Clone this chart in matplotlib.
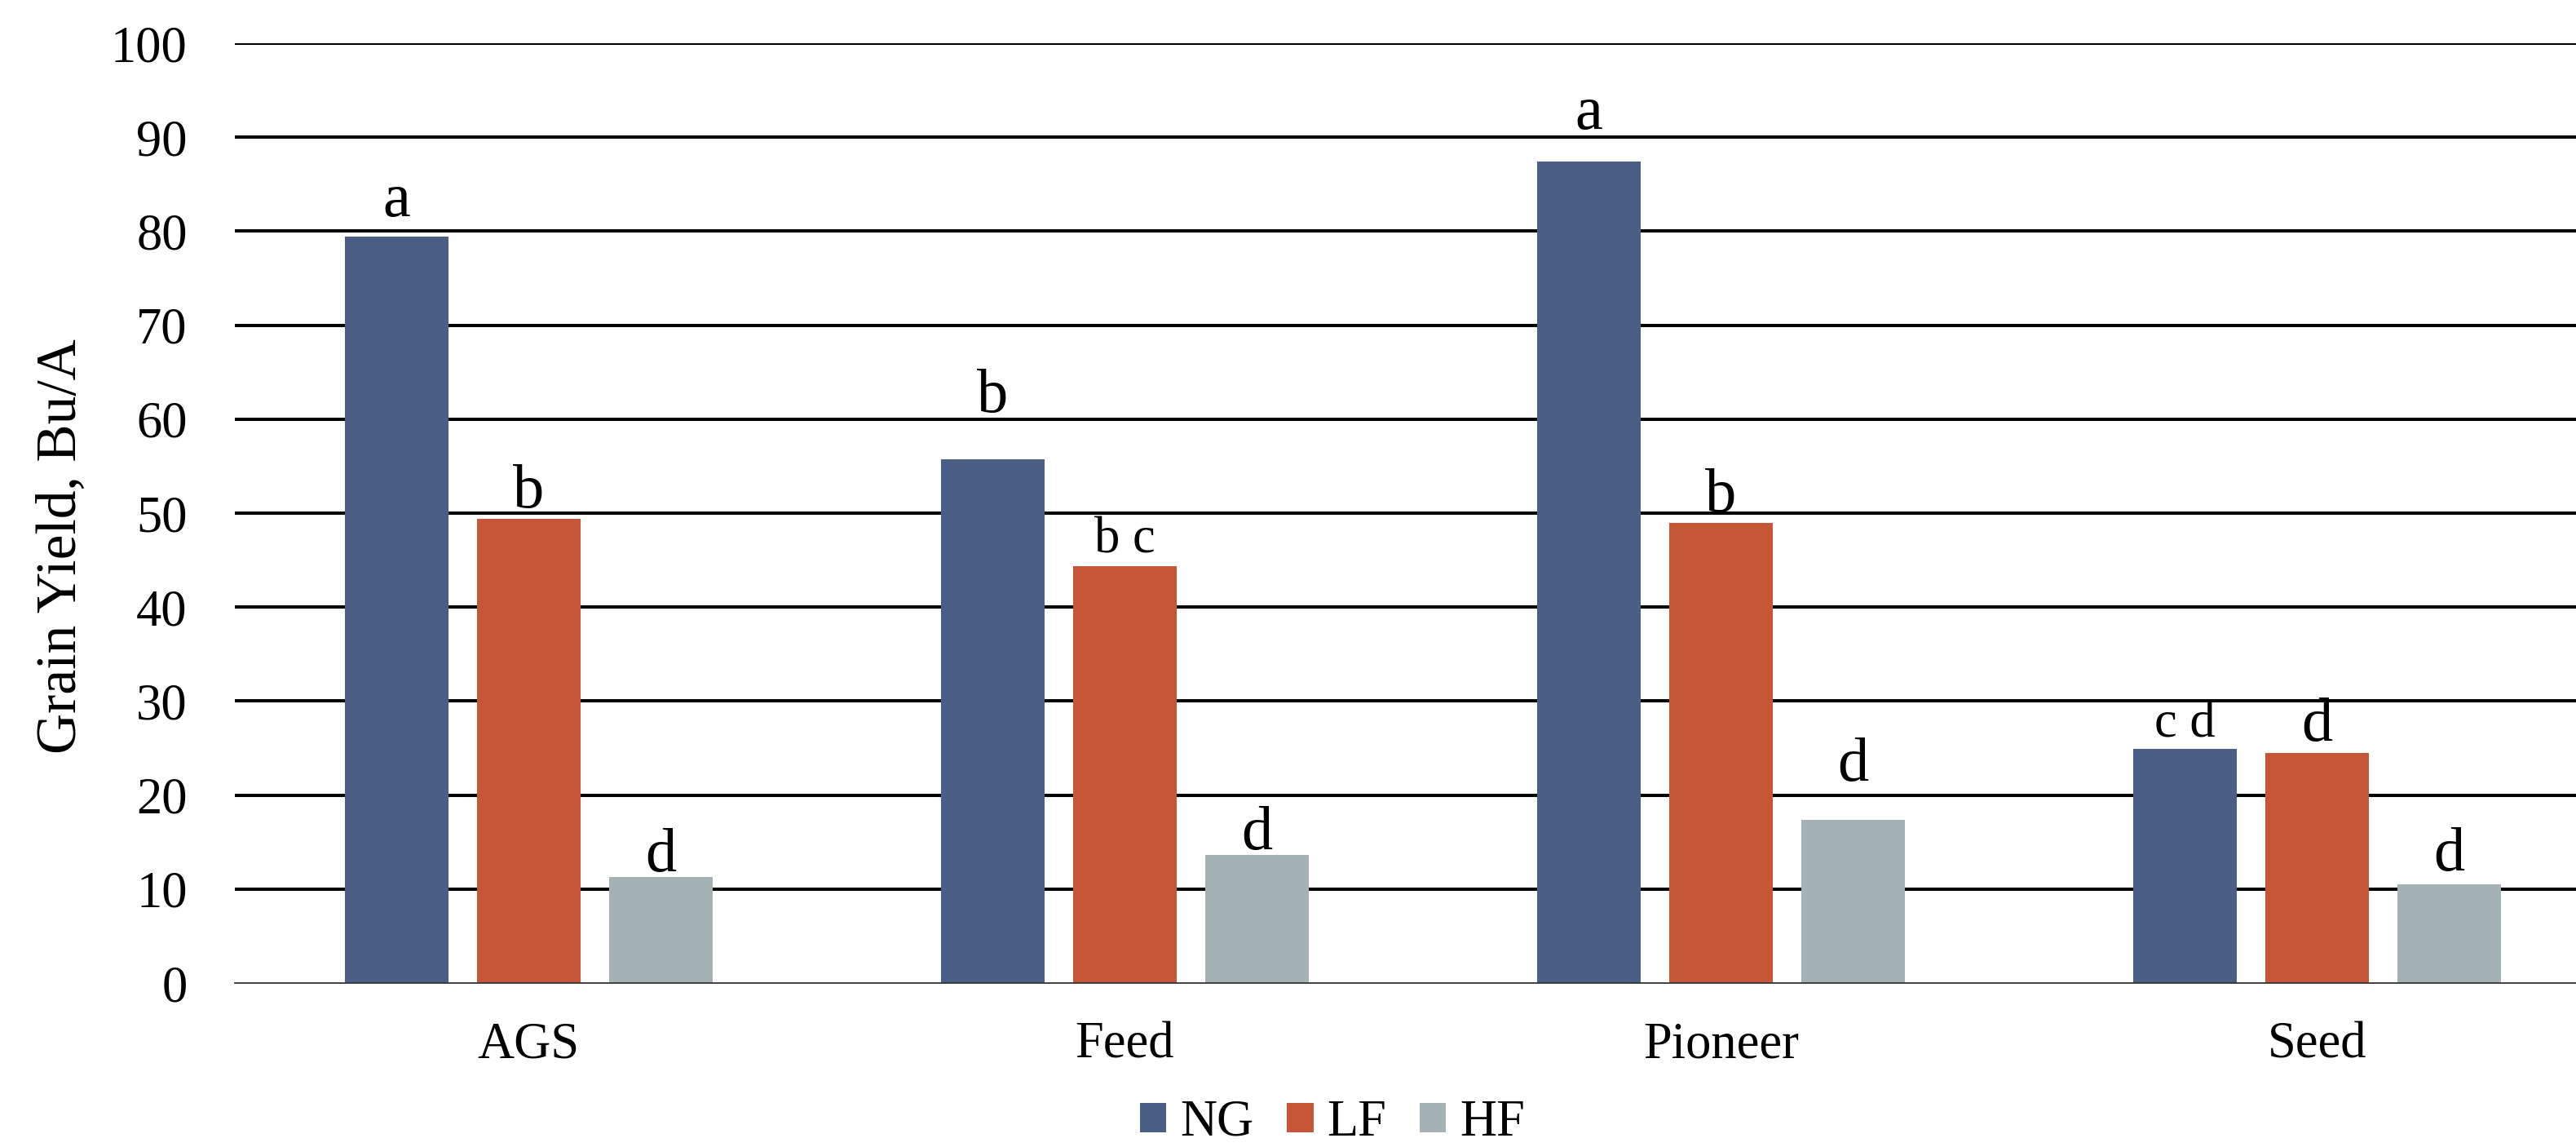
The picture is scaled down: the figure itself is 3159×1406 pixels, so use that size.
import matplotlib
matplotlib.use('Agg')
import matplotlib.pyplot as plt
import numpy as np

# 数据
categories = ['AGS', 'Feed', 'Pioneer', 'Seed']
series = ['NG', 'LF', 'HF']
ng = [79.4, 55.7, 87.4, 24.9]
lf = [49.4, 44.4, 49.0, 24.5]
hf = [11.3, 13.6, 17.4, 10.5]
ng_letters = ['a', 'b', 'a', 'c d']
lf_letters = ['b', 'b c', 'b', 'd']
hf_letters = ['d', 'd', 'd', 'd']
# 字母标注离柱顶的距离（数据单位）
ng_gap = [2.2, 5.1, 3.5, 1.3]
lf_gap = [1.2, 1.4, 1.2, 1.3]
hf_gap = [0.6, 0.6, 4.1, 1.5]
y_ticks = [0, 10, 20, 30, 40, 50, 60, 70, 80, 90, 100]

colors = ['#4A5F85', '#C65736', '#A4B1B5']

plt.rcParams['font.family'] = ['Liberation Serif', 'DejaVu Serif']

W, H, DPI = 3159, 1406, 100
fig = plt.figure(figsize=(W / DPI, H / DPI), dpi=DPI)
# 坐标轴右侧超出画布（原图被裁切）
ax = fig.add_axes([288 / W, 201 / H, 4 * 731 / W, 1152 / H])

x = np.arange(len(categories))
bw = 0.174
step = 0.2216
vals = [ng, lf, hf]
letters = [ng_letters, lf_letters, hf_letters]
gaps = [ng_gap, lf_gap, hf_gap]

for t in y_ticks[1:]:
    ax.axhline(t, color='black', lw=2.9, zorder=0)

for i, name in enumerate(series):
    xs = x + (i - 1) * step
    ax.bar(xs, vals[i], width=bw, color=colors[i], label=name, zorder=2)
    for xx, v, s, g in zip(xs, vals[i], letters[i], gaps[i]):
        fs = 45 if ' ' in s else 55
        ax.text(xx, v + g, s, ha='center', va='baseline', fontsize=fs, zorder=3)

ax.set_xlim(-0.493, 3.507)
ax.set_ylim(0, 100)
ax.set_yticks(y_ticks)
ax.set_xticks(x)
ax.set_xticklabels(categories)
ax.tick_params(axis='both', length=0, labelsize=45)
ax.tick_params(axis='y', pad=42)
ax.tick_params(axis='x', pad=34)
for sp in ['left', 'right', 'top']:
    ax.spines[sp].set_visible(False)
ax.spines['bottom'].set_color('#333333')
ax.spines['bottom'].set_linewidth(1.3)
ax.spines['bottom'].set_zorder(4)

fig.text(75 / W, 1 - 670 / H, 'Grain Yield, Bu/A', rotation=90,
         ha='center', va='center', fontsize=50)

fig.legend(loc='center', bbox_to_anchor=(1634 / W, 1 - 1377 / H), ncol=3,
           frameon=False, fontsize=45, handlelength=0.52, handleheight=0.52,
           handletextpad=0.27, columnspacing=0.65, borderaxespad=0)

fig.savefig('out.png', dpi=DPI)
